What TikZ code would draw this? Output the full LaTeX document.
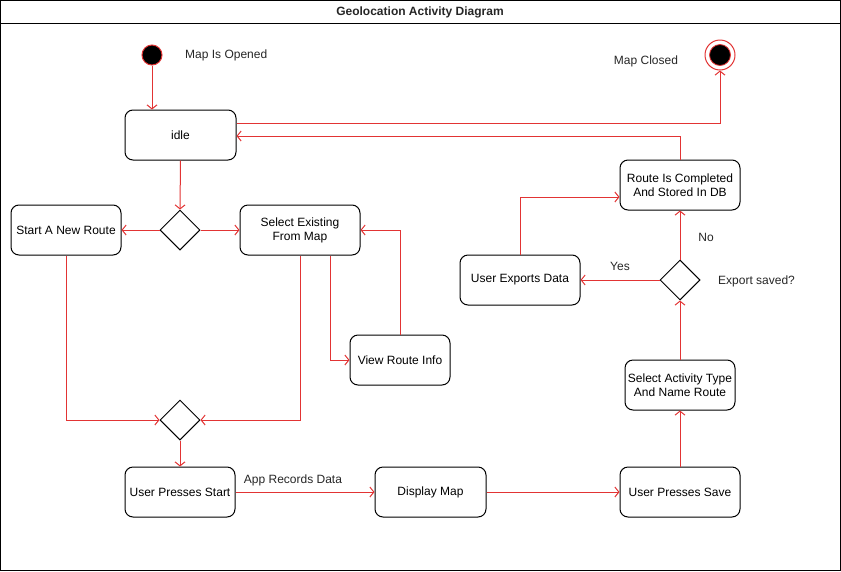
\documentclass[tikz,border=0pt]{standalone}
\usepackage{fontspec}
\setmainfont{Liberation Sans}
\usetikzlibrary{arrows.meta,shapes.geometric,calc}
\definecolor{flowred}{RGB}{226,52,52}
\begin{document}
\begin{tikzpicture}[x=1pt,y=-1pt,
  every node/.style={font=\fontsize{12}{14}\selectfont},
  act/.style={draw=black,line width=1pt,fill=white,rounded corners=8pt,minimum height=50pt,align=center,inner sep=1pt},
  dec/.style={draw=black,line width=1pt,fill=white,diamond,minimum width=40pt,minimum height=40pt,inner sep=0pt},
  flow/.style={draw=flowred,line width=1pt,-{Straight Barb[length=4pt,width=10pt]}},
  lbl/.style={inner sep=0pt,text=black!85}
]
\useasboundingbox (0,0) rectangle (841,571);
% frame
\draw[line width=1pt] (0.5,0.5) rectangle (840.5,570.5);
\draw[line width=1pt] (0.5,23) -- (840.5,23);
\node[lbl,font=\fontsize{12}{14}\selectfont\bfseries] (title) at (420,12) {Geolocation Activity Diagram};

% start / end
\node[circle,draw=flowred,fill=black,line width=1pt,minimum size=20pt,inner sep=0pt] (start) at (152,55) {};
\node[lbl,anchor=west] (lopen) at (185,55) {Map Is Opened};
\node[circle,draw=flowred,fill=white,line width=1pt,minimum size=30pt,inner sep=0pt] (end) at (720,55) {};
\node[circle,draw=flowred,fill=black,line width=0.8pt,minimum size=21pt,inner sep=0pt] (endin) at (720,55) {};
\node[lbl] (lclosed) at (646,61) {Map Closed};

% activities
\node[act,minimum width=111pt] (idle) at (180.5,135) {idle};
\node[act,minimum width=110pt] (newr) at (66,230) {Start A New Route};
\node[act,minimum width=120pt] (sel) at (300,230) {Select Existing\\From Map};
\node[act,minimum width=100pt] (view) at (400,360) {View Route Info};
\node[act,minimum width=110pt] (ups) at (180,492) {User Presses Start};
\node[act,minimum width=111pt] (disp) at (430.5,492) {Display Map};
\node[act,minimum width=120pt] (save) at (680,492) {User Presses Save};
\node[act,minimum width=110pt] (sat) at (680,385) {Select Activity Type\\And Name Route};
\node[act,minimum width=120pt] (exp) at (520,280) {User Exports Data};
\node[act,minimum width=120pt] (done) at (680,185) {Route Is Completed\\And Stored In DB};

% decisions
\node[dec] (d1) at (180,230) {};
\node[dec] (d2) at (180,420) {};
\node[dec] (d3) at (680,280) {};

% labels
\node[lbl] (lapp) at (293,480) {App Records Data};
\node[lbl] (lyes) at (620,266) {Yes};
\node[lbl] (lno) at (706,237) {No};
\node[lbl,anchor=west] (lexp) at (718,281) {Export saved?};

% connectors
\draw[flow] (start.south) -- (start.south |- idle.north);
\draw[flow] ($(idle.east)+(0,-12)$) -| (end.south);
\draw[flow] (done.north) |- ($(idle.east)+(0,1)$);
\draw[flow] (idle.south) -- (d1.north);
\draw[flow] (d1.west) -- (newr.east);
\draw[flow] (d1.east) -- (sel.west);
\draw[flow] ($(sel.south)+(30,0)$) |- (view.west);
\draw[flow] (view.north) |- (sel.east);
\draw[flow] (newr.south) |- (d2.west);
\draw[flow] (sel.south) |- (d2.east);
\draw[flow] (d2.south) -- (ups.north);
\draw[flow] (ups.east) -- (disp.west);
\draw[flow] (disp.east) -- (save.west);
\draw[flow] (save.north) -- (sat.south);
\draw[flow] (sat.north) -- (d3.south);
\draw[flow] (d3.west) -- (exp.east);
\draw[flow] (d3.north) -- (done.south);
\draw[flow] (exp.north) |- ($(done.west)+(0,12)$);
\end{tikzpicture}
\end{document}
